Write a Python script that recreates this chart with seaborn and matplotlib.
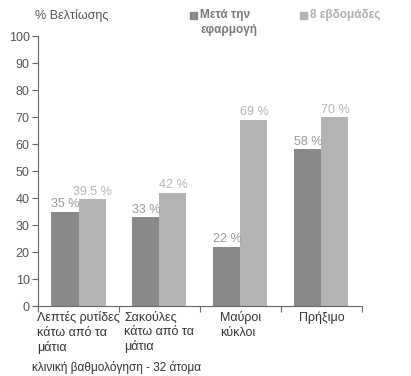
import matplotlib
matplotlib.use("Agg")
import matplotlib.pyplot as plt
import seaborn as sns
import pandas as pd
from matplotlib.patches import Rectangle

categories = ["Λεπτές ρυτίδες\nκάτω από τα\nμάτια", "Σακούλες\nκάτω από τα\nμάτια", "Μαύροι\nκύκλοι", "Πρήξιμο"]
series_names = ["Μετά την\nεφαρμογή", "8 εβδομάδες"]
after_values = [35, 33, 22, 58]
week8_values = [39.5, 42, 69, 70]
after_labels = ["35 %", "33 %", "22 %", "58 %"]
week8_labels = ["39.5 %", "42 %", "69 %", "70 %"]
y_ticks = [0, 10, 20, 30, 40, 50, 60, 70, 80, 90, 100]

sns.set_theme(style="white")
plt.rcParams['font.family'] = ['Liberation Sans', 'DejaVu Sans']

df = pd.DataFrame({
    "cat": categories * 2,
    "series": [series_names[0]] * 4 + [series_names[1]] * 4,
    "val": after_values + week8_values,
})

colors = ["#898989", "#b3b3b3"]
label_colors = ["#9a9a9a", "#b5b5b5"]

fig = plt.figure(figsize=(4.11, 3.76), dpi=100)
ax = fig.add_axes([0.0925, 0.186, 0.788, 0.718])
sns.barplot(data=df, x="cat", y="val", hue="series", palette=colors,
            width=0.667, gap=0, saturation=1, ax=ax, legend=False, linewidth=0)

for cont, labs, c in zip(ax.containers, [after_labels, week8_labels], label_colors):
    ax.bar_label(cont, labels=labs, padding=1, fontsize=9, color=c)

ax.set_ylim(0, 100)
ax.set_xlim(-0.5, 3.5)
ax.set_yticks(y_ticks)
ax.set_xticks([-0.5, 0.5, 1.5, 2.5, 3.5])
ax.set_xticklabels([])
ax.tick_params(axis='y', left=True, length=4, width=0.8, color="#666666", labelsize=9, labelcolor="#555555", pad=2)
ax.tick_params(axis='x', bottom=True, length=4, width=0.8, color="#666666")
ax.set_xlabel("")
ax.set_ylabel("")
sns.despine(ax=ax)
for s in ["left", "bottom"]:
    ax.spines[s].set_color("#666666")
    ax.spines[s].set_linewidth(0.8)

for i, cat in enumerate(categories):
    ax.text(i, -2, cat, ha="center", va="top", multialignment="left",
            fontsize=9, color="#333333", linespacing=1.25,
            transform=ax.transData)

fig.text(35 / 411, 1 - 15 / 376, "% Βελτίωσης", fontsize=9, color="#555555", va="center", ha="left")
# legend
fig.patches.append(Rectangle((190 / 411, 1 - 19 / 376), 7 / 411, 7 / 376, transform=fig.transFigure, color=colors[0]))
fig.text(200 / 411, 1 - 9 / 376, series_names[0], fontsize=8.5, color="#7a7a7a", va="top", ha="left",
         fontweight="bold", linespacing=1.3, transform=fig.transFigure)
fig.patches.append(Rectangle((300 / 411, 1 - 19 / 376), 7 / 411, 7 / 376, transform=fig.transFigure, color=colors[1]))
fig.text(310 / 411, 1 - 15 / 376, series_names[1], fontsize=8.5, color="#b0b0b0", va="center", ha="left",
         fontweight="bold", transform=fig.transFigure)

fig.text(32 / 411, 1 - 367 / 376, "κλινική βαθμολόγηση - 32 άτομα", fontsize=8.5, color="#333333", va="center", ha="left")

fig.savefig("out.png", dpi=100)
